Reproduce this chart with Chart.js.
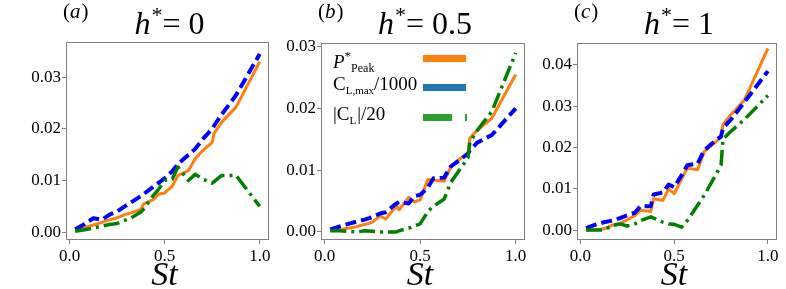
<!DOCTYPE html>
<html>
<head>
<meta charset="utf-8">
<script src="https://cdn.jsdelivr.net/npm/chart.js@4.4.0/dist/chart.umd.min.js"></script>
<style>
html, body { margin: 0; padding: 0; background: #fff; }
#wrap { position: relative; width: 786px; height: 289px; overflow: hidden; }
canvas { position: absolute; top: 0; }
</style>
</head>
<body>
<div id="wrap">
<canvas id="pa" width="276" height="289" style="left:0px"></canvas>
<canvas id="pb" width="277" height="289" style="left:255px"></canvas>
<canvas id="pc" width="273" height="289" style="left:511px"></canvas>
</div>
<script>
// Strouhal numbers (shared x values)
const stValues = [0.03, 0.08, 0.125, 0.17, 0.21, 0.25, 0.29, 0.32, 0.375, 0.39, 0.44, 0.47, 0.5, 0.54, 0.57, 0.625, 0.66, 0.7, 0.75, 0.76, 0.8, 0.875, 1.0];
const xTicks = [0.0, 0.5, 1.0];

// (a) h* = 0
const peakA  = [0.0003, 0.0009, 0.0014, 0.0019, 0.0024, 0.0028, 0.0034, 0.0037, 0.0044, 0.0055, 0.0063, 0.0074, 0.0076, 0.0089, 0.0110, 0.0119, 0.0142, 0.0158, 0.0174, 0.0192, 0.0213, 0.0242, 0.0330];
const clmaxA = [0.0006, 0.0016, 0.0027, 0.0024, 0.0034, 0.0040, 0.0050, 0.0057, 0.0070, 0.0074, 0.0088, 0.0096, 0.0104, 0.0118, 0.0132, 0.0150, 0.0161, 0.0180, 0.0200, 0.0206, 0.0228, 0.0265, 0.0345];
const clA    = [0.0002, 0.0005, 0.0008, 0.0012, 0.0015, 0.0017, 0.0023, 0.0027, 0.0039, 0.0045, 0.0071, 0.0084, 0.0100, 0.0103, 0.0126, 0.0100, 0.0112, 0.0103, 0.0095, 0.0098, 0.0110, 0.0110, 0.0050];
const yTicksA = [0.00, 0.01, 0.02, 0.03];

// (b) h* = 0.5
const peakB  = [0.0002, 0.0004, 0.0006, 0.0009, 0.0012, 0.0016, 0.0026, 0.0021, 0.0042, 0.0036, 0.0056, 0.0049, 0.0052, 0.0085, 0.0084, 0.0082, 0.0105, 0.0117, 0.0127, 0.0152, 0.0165, 0.0184, 0.0255];
const clmaxB = [0.0004, 0.0009, 0.0013, 0.0017, 0.0020, 0.0024, 0.0030, 0.0032, 0.0046, 0.0049, 0.0046, 0.0058, 0.0060, 0.0072, 0.0087, 0.0088, 0.0106, 0.0115, 0.0127, 0.0132, 0.0145, 0.0157, 0.0200];
const clB    = [0.0002, 0.0002, 0.0001, 0.0000, 0.0002, 0.0001, 0.0000, 0.0000, 0.0000, 0.0002, 0.0006, 0.0010, 0.0013, 0.0033, 0.0042, 0.0053, 0.0080, 0.0098, 0.0120, 0.0145, 0.0165, 0.0195, 0.0290];
const yTicksB = [0.00, 0.01, 0.02, 0.03];

// (c) h* = 1
const peakC  = [0.0000, 0.0001, 0.0003, 0.0012, 0.0016, 0.0025, 0.0035, 0.0048, 0.0045, 0.0076, 0.0072, 0.0100, 0.0088, 0.0124, 0.0150, 0.0146, 0.0190, 0.0205, 0.0225, 0.0255, 0.0278, 0.0315, 0.0440];
const clmaxC = [0.0005, 0.0013, 0.0019, 0.0023, 0.0029, 0.0036, 0.0042, 0.0058, 0.0058, 0.0086, 0.0091, 0.0110, 0.0104, 0.0133, 0.0157, 0.0161, 0.0193, 0.0209, 0.0227, 0.0247, 0.0266, 0.0310, 0.0385];
const clC    = [0.0000, 0.0000, 0.0000, 0.0011, 0.0015, 0.0010, 0.0015, 0.0023, 0.0032, 0.0029, 0.0019, 0.0015, 0.0014, 0.0007, 0.0023, 0.0060, 0.0084, 0.0116, 0.0157, 0.0220, 0.0238, 0.0268, 0.0326];
const yTicksC = [0.00, 0.01, 0.02, 0.03, 0.04];

const serif = "'Liberation Serif', 'DejaVu Serif', serif";

function toXY(ys) {
  return ys.map((y, i) => ({ x: stValues[i], y: y }));
}

// draw a row of text pieces (mixed italic / sub / superscript)
function drawRuns(ctx, runs, x, baseline, centered) {
  let w = 0;
  runs.forEach(r => {
    ctx.font = (r.italic ? 'italic ' : '') + r.size + 'px ' + serif;
    r.w = ctx.measureText(r.t).width + (r.gap || 0);
    w += r.w;
  });
  let cx = centered ? x - w / 2 : x;
  ctx.fillStyle = '#000';
  ctx.textBaseline = 'alphabetic';
  ctx.textAlign = 'left';
  runs.forEach(r => {
    ctx.font = (r.italic ? 'italic ' : '') + r.size + 'px ' + serif;
    ctx.fillText(r.t, cx + (r.pre || 0), baseline + (r.dy || 0));
    cx += r.w;
  });
}

const textPlugin = {
  id: 'panelText',
  afterDraw(chart) {
    const ctx = chart.ctx;
    const a = chart.chartArea;
    const p = chart.options.plugins.panelText;
    ctx.save();
    // spines
    ctx.strokeStyle = '#808080';
    ctx.lineWidth = 1;
    ctx.strokeRect(a.left + 0.5, a.top + 0.5, a.right - a.left - 1, a.bottom - a.top - 1);
    const mid = (a.left + a.right) / 2;
    // title
    drawRuns(ctx, [
      { t: 'h', size: 32, italic: true, gap: 1 },
      { t: '*', size: 22, dy: -12 },
      { t: '=', size: 32, gap: 8 },
      { t: p.h, size: 32 }
    ], mid + 2, 34, true);
    // panel letter
    drawRuns(ctx, [
      { t: '(', size: 21 },
      { t: p.letter, size: 21, italic: true, gap: 1 },
      { t: ')', size: 21 }
    ], a.left - 3, 18, false);
    // x label
    drawRuns(ctx, [{ t: 'St', size: 34, italic: true }], mid - 3, 285, true);
    if (p.legend) {
      const lx = a.left + 12;
      const hx = a.left + 102;
      drawRuns(ctx, [
        { t: 'P', size: 19, italic: true },
        { t: '*', size: 13, dy: -8 },
        { t: 'Peak', size: 12, dy: 4 }
      ], lx, 68, false);
      drawRuns(ctx, [
        { t: 'C', size: 19 },
        { t: 'L,max', size: 11, dy: 4 },
        { t: '/1000', size: 19 }
      ], lx, 90, false);
      drawRuns(ctx, [
        { t: '|C', size: 19 },
        { t: 'L', size: 11, dy: 4, gap: 1 },
        { t: '|/20', size: 19 }
      ], lx, 120, false);
      ctx.fillStyle = '#ff7f0e';
      ctx.fillRect(hx, 55, 43, 7);
      ctx.fillStyle = '#1f77b4';
      ctx.fillRect(hx, 84, 43, 7);
      ctx.fillStyle = '#2ca02c';
      ctx.fillRect(hx, 114, 29, 7);
      ctx.fillRect(hx + 42, 114, 2, 7);
    }
    ctx.restore();
  }
};

function makePanel(id, peak, clmax, cl, yTicks, yMin, yMax, top, h, letter, legend) {
  new Chart(document.getElementById(id), {
    type: 'line',
    data: {
      datasets: [
        { data: toXY(peak), borderColor: '#ff7f0e', borderWidth: 3, order: 3 },
        { data: toXY(clmax), borderColor: '#0000ff', borderWidth: 4, borderDash: [11, 5], order: 2 },
        { data: toXY(cl), borderColor: '#008000', borderWidth: 3.5, borderDash: [16, 5, 3, 5], order: 1 }
      ]
    },
    options: {
      responsive: false,
      animation: false,
      devicePixelRatio: 1,
      layout: { padding: { top: top, right: 7, left: 0, bottom: 0 } },
      elements: {
        point: { radius: 0 },
        line: { tension: 0, fill: false, borderJoinStyle: 'round', borderCapStyle: 'butt' }
      },
      plugins: {
        legend: { display: false },
        tooltip: { enabled: false },
        panelText: { h: h, letter: letter, legend: legend }
      },
      scales: {
        x: {
          type: 'linear',
          min: -0.0185,
          max: 1.0485,
          afterFit: s => { s.height = 49; },
          afterBuildTicks: s => { s.ticks = xTicks.map(v => ({ value: v })); },
          ticks: {
            callback: v => v.toFixed(1),
            font: { family: serif, size: 17 },
            color: '#000',
            padding: 2,
            maxRotation: 0,
            autoSkip: false
          },
          grid: { drawOnChartArea: false, tickLength: 4, color: '#808080' },
          border: { display: false }
        },
        y: {
          type: 'linear',
          min: yMin,
          max: yMax,
          afterFit: s => { s.width = 66; },
          afterBuildTicks: s => { s.ticks = yTicks.map(v => ({ value: v })); },
          ticks: {
            callback: v => v.toFixed(2),
            font: { family: serif, size: 17 },
            color: '#000',
            padding: 1,
            autoSkip: false
          },
          grid: { drawOnChartArea: false, tickLength: 4, color: '#808080' },
          border: { display: false }
        }
      }
    },
    plugins: [textPlugin]
  });
}

makePanel('pa', peakA, clmaxA, clA, yTicksA, -0.0015, 0.0368, 42, '0', 'a', false);
makePanel('pb', peakB, clmaxB, clB, yTicksB, -0.0013, 0.0306, 43, '0.5', 'b', true);
makePanel('pc', peakC, clmaxC, clC, yTicksC, -0.0024, 0.0453, 43, '1', 'c', false);
</script>
</body>
</html>
